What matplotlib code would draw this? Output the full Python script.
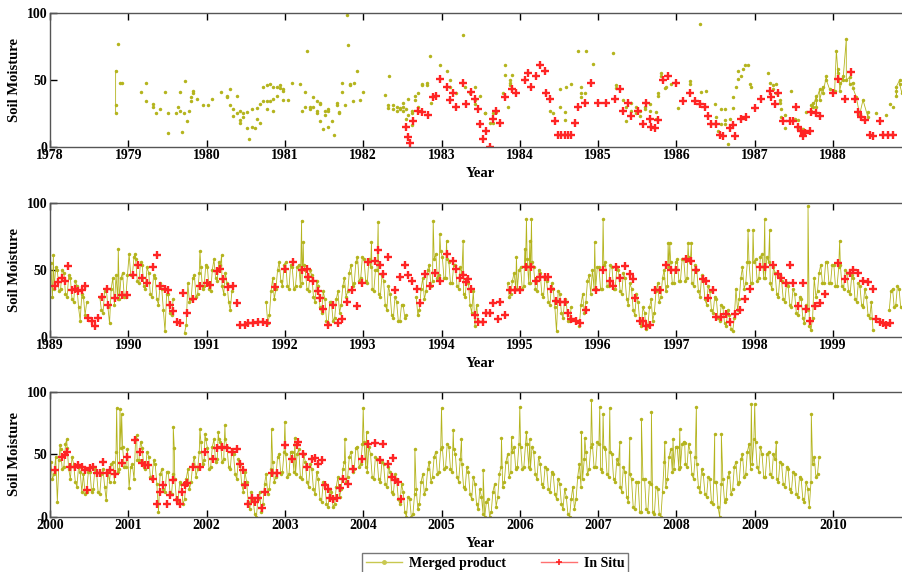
import numpy as np
import matplotlib
matplotlib.use('Agg')
import matplotlib.pyplot as plt
from matplotlib.lines import Line2D

nan = np.nan

# ---------------------------------------------------------------- data
# 1978-1988: sparse merged product observations (decimal year, value)
p1_years = [1978.872, 1978.894, 1978.915, 1979.162, 1979.221, 1979.221, 1979.311, 1979.311,
            1979.349, 1979.404, 1979.464, 1979.511, 1979.511, 1979.609, 1979.630, 1979.660,
            1979.660, 1979.685, 1979.711, 1979.723, 1979.745, 1979.770, 1979.796, 1979.796,
            1979.830, 1979.830, 1979.872, 1979.957, 1980.021, 1980.072, 1980.179, 1980.255,
            1980.255, 1980.298, 1980.298, 1980.340, 1980.340, 1980.383, 1980.383, 1980.426,
            1980.426, 1980.426, 1980.468, 1980.468, 1980.511, 1980.511, 1980.540, 1980.574,
            1980.574, 1980.617, 1980.638, 1980.638, 1980.681, 1980.681, 1980.723, 1980.723,
            1980.766, 1980.766, 1980.766, 1980.809, 1980.809, 1980.851, 1980.851, 1980.851,
            1980.894, 1980.894, 1980.936, 1980.936, 1980.979, 1980.979, 1980.979, 1981.043,
            1981.085, 1981.191, 1981.213, 1981.255, 1981.255, 1981.285, 1981.319, 1981.319,
            1981.362, 1981.362, 1981.404, 1981.404, 1981.404, 1981.447, 1981.447, 1981.447,
            1981.481, 1981.511, 1981.511, 1981.553, 1981.553, 1981.553, 1981.596, 1981.630,
            1981.660, 1981.660, 1981.694, 1981.694, 1981.723, 1981.723, 1981.766, 1981.787,
            1981.809, 1981.830, 1981.830, 1981.864, 1981.881, 1981.915, 1981.957, 1982.000,
            1982.277, 1982.319, 1982.319, 1982.332, 1982.383, 1982.383, 1982.426, 1982.426,
            1982.468, 1982.468, 1982.511, 1982.511, 1982.511, 1982.545, 1982.545, 1982.574,
            1982.574, 1982.617, 1982.617, 1982.617, 1982.660, 1982.660, 1982.702, 1982.702,
            1982.745, 1982.745, 1982.809, 1982.809, 1982.851, 1982.864, 1982.915, 1982.979,
            1983.064, 1983.106, 1983.106, 1983.191, 1983.277, 1983.298, 1983.362, 1983.426,
            1983.426, 1983.426, 1983.489, 1983.553, 1983.553, 1983.617, 1983.660, 1983.660,
            1983.702, 1983.787, 1983.809, 1983.809, 1983.851, 1983.872, 1983.872, 1983.872,
            1983.894, 1984.383, 1984.426, 1984.511, 1984.511, 1984.574, 1984.574, 1984.596,
            1984.660, 1984.745, 1984.787, 1984.787, 1984.787, 1984.830, 1984.851, 1984.936,
            1985.191, 1985.234, 1985.234, 1985.319, 1985.362, 1985.362, 1985.426, 1985.426,
            1985.489, 1985.489, 1985.532, 1985.532, 1985.596, 1985.596, 1985.660, 1985.660,
            1985.745, 1985.745, 1985.766, 1985.766, 1985.809, 1985.809, 1985.851, 1985.872,
            1985.936, 1986.021, 1986.170, 1986.170, 1986.298, 1986.319, 1986.383, 1986.489,
            1986.511, 1986.532, 1986.574, 1986.574, 1986.617, 1986.617, 1986.617, 1986.660,
            1986.681, 1986.723, 1986.723, 1986.766, 1986.787, 1986.787, 1986.830, 1986.851,
            1986.872, 1986.915, 1986.936, 1986.957, 1987.170, 1987.191, 1987.234, 1987.234,
            1987.277, 1987.277, 1987.319, 1987.319, 1987.340, 1987.340, 1987.383, 1987.383,
            1987.468, 1987.511, 1987.553, 1987.553, 1987.617, 1987.660, 1988.553, 1988.681,
            1988.723, 1988.766]
p1_values = [77, 48, 48, 41, 48, 34, 32, 30,
             25, 28, 41, 10, 25, 25, 30, 27,
             41, 11, 25, 49, 19, 27, 37, 34,
             42, 40, 36, 31, 31, 36, 41, 37,
             38, 43, 31, 28, 23, 25, 38, 27,
             18, 20, 25, 22, 26, 14, 6, 28,
             15, 14, 29, 21, 32, 18, 34, 45,
             34, 28, 46, 47, 34, 45, 36, 27,
             38, 45, 46, 44, 43, 42, 35, 35,
             48, 47, 27, 41, 30, 72, 30, 28,
             37, 30, 34, 27, 25, 33, 32, 19,
             13, 27, 24, 28, 27, 15, 19, 9,
             31, 33, 25, 26, 41, 48, 31, 99,
             76, 46, 47, 34, 48, 57, 35, 41,
             39, 29, 31, 53, 28, 31, 30, 27,
             29, 28, 30, 27, 33, 21, 28, 36,
             24, 27, 25, 16, 38, 35, 40, 30,
             47, 46, 48, 46, 68, 33, 38, 61,
             57, 50, 45, 40, 84, 45, 40, 45,
             35, 32, 38, 25, 25, 18, 25, 18,
             26, 40, 61, 54, 30, 46, 48, 50,
             54, 27, 25, 30, 43, 20, 26, 45,
             47, 72, 45, 40, 37, 40, 72, 62,
             70, 46, 44, 35, 30, 19, 33, 27,
             25, 30, 27, 23, 28, 30, 32, 27,
             26, 21, 40, 38, 55, 53, 44, 45,
             47, 29, 49, 47, 92, 41, 42, 32,
             22, 12, 28, 17, 20, 17, 28, 2,
             21, 29, 37, 45, 51, 57, 53, 58,
             61, 61, 47, 45, 55, 48, 43, 46,
             47, 40, 35, 33, 28, 22, 24, 14,
             42, 21, 14, 20, 13, 26, 25, 24,
             32, 30]

# 1978-1988: merged product runs drawn as connected lines (nan = break)
p1_line_years = [1978.838, 1978.838, 1978.838, nan,
                 1987.723, 1987.723, 1987.745, 1987.745, 1987.787, 1987.787, 1987.787,
                 1987.830, 1987.830, 1987.872, 1987.872, 1987.915, 1987.915, 1987.957,
                 1988.021, 1988.043, 1988.064, 1988.064, 1988.085, 1988.085, 1988.128,
                 1988.128, 1988.170, 1988.170, 1988.213, 1988.213, 1988.255, 1988.255,
                 1988.298, 1988.340, 1988.383, 1988.447, 1988.447, nan,
                 1988.809, 1988.809, 1988.809, 1988.851, 1988.851, 1988.880, 1988.900]
p1_line_values = [57, 31, 25, nan,
                  31, 27, 33, 30, 38, 30, 35,
                  43, 35, 45, 40, 53, 50, 43,
                  42, 72, 55, 58, 48, 42, 53,
                  50, 81, 50, 52, 47, 48, 44,
                  37, 24, 35, 22, 26, nan,
                  42, 38, 45, 50, 47, 40, 48]

# 1982-1988 in situ
p1_insitu_years = [1982.545, 1982.574, 1982.604, 1982.638, 1982.702, 1982.745, 1982.830,
                   1982.894, 1982.936, 1982.979, 1983.064, 1983.106, 1983.149, 1983.191,
                   1983.277, 1983.319, 1983.383, 1983.426, 1983.468, 1983.489, 1983.532,
                   1983.574, 1983.617, 1983.660, 1983.702, 1983.745, 1983.809, 1983.894,
                   1983.957, 1984.064, 1984.106, 1984.149, 1984.204, 1984.255, 1984.319,
                   1984.340, 1984.383, 1984.447, 1984.489, 1984.532, 1984.574, 1984.617,
                   1984.660, 1984.702, 1984.745, 1984.830, 1984.915, 1985.000, 1985.106,
                   1985.213, 1985.277, 1985.319, 1985.383, 1985.426, 1985.511, 1985.574,
                   1985.617, 1985.660, 1985.681, 1985.723, 1985.766, 1985.830, 1985.894,
                   1986.000, 1986.085, 1986.170, 1986.234, 1986.298, 1986.362, 1986.404,
                   1986.447, 1986.511, 1986.553, 1986.596, 1986.681, 1986.723, 1986.745,
                   1986.830, 1986.894, 1987.000, 1987.085, 1987.191, 1987.213, 1987.255,
                   1987.298, 1987.362, 1987.447, 1987.489, 1987.532, 1987.553, 1987.596,
                   1987.617, 1987.638, 1987.702, 1987.723, 1987.787, 1987.830, 1988.000,
                   1988.064, 1988.149, 1988.234, 1988.277, 1988.319, 1988.362, 1988.404,
                   1988.468, 1988.511, 1988.596, 1988.638, 1988.702, 1988.766]
p1_insitu_values = [15, 7, 3, 19, 27, 26, 24,
                    37, 38, 51, 45, 35, 40, 30,
                    48, 32, 41, 36, 28, 17, 6,
                    12, 0, 21, 27, 18, 37, 43,
                    40, 50, 55, 45, 53, 61, 57,
                    40, 36, 19, 9, 9, 9, 9,
                    9, 18, 30, 33, 48, 33, 33,
                    36, 43, 27, 33, 23, 27, 17,
                    33, 21, 15, 14, 20, 50, 53,
                    48, 34, 40, 34, 32, 30, 23,
                    17, 17, 9, 8, 14, 16, 8,
                    21, 22, 29, 36, 42, 37, 32,
                    40, 19, 19, 19, 30, 15, 12,
                    8, 10, 12, 26, 25, 23, 40,
                    51, 36, 56, 36, 26, 22, 20,
                    9, 8, 19, 9, 9, 9]

# 1989-2009: merged product, two readings per half month (nan = no data)
m1989 = [55, 30, 36, 52, 50, 34, 36, 50, 48, 32, 30, 46, 44, 28, 26, 42, 38, 22, 12, 32, 30, 16, 26, nan,
         nan, nan, nan, nan, nan, nan, 30, 20, 18, 34, 36, 22, 10, 36, 44, 24, 46, 28, 28, 44, 48, 30, 30, 46]
m1990 = [62, 46, 46, 60, 58, 42, 40, 56, 54, 38, 36, 52, 48, 32, 30, 46, 44, 28, 24, 40, 36, 20, 4, 32,
         32, 18, 16, 28, nan, nan, nan, nan, nan, nan, 3, 9, 40, 26, 28, 44, 46, 30, 32, 48, 52, 36, 38, 54]
m1991 = [52, 36, 34, 50, 58, 44, 42, 56, 54, 38, 32, 48, 40, 26, 20, 34] + [nan] * 20 + \
        [26, 10, 16, 34, 44, 28, 36, 50, 56, 42, 38, 54]
m1992 = [56, 38, 36, 54, 52, 36, 38, 52, 54, 38, 40, 54, 50, 36, 34, 50, 46, 30, 26, 42, 38, 22, 18, 34,
         28, 12, 10, 26, 26, 12, 14, 28, 34, 18, 24, 38, 44, 30, 34, 48, 54, 38, 40, 56, 60, 42, 44, 60]
m1993 = [58, 42, 40, 58, 52, 36, 34, 50, 50, 32, 30, 46, 42, 24, 20, 38, 32, 16, 14, 30, 26, 12, 12, 24,
         24, 14, 16, nan, nan, nan, nan, nan, 30, 16, 20, 36, 44, 28, 34, 50, 54, 38, 42, 58, 62, 44, 46, 64]
m1994 = [60, 44, 44, 58, 56, 40, 40, 54, 54, 38, 36, 52, 48, 32, 30, 44, 40, 24, 18, 34, 8, 24, 12] + \
        [nan] * 17 + [40, 30, 32, 42, 48, 36, 36, 50]
m1995 = [52, 36, 38, 54, 58, 40, 40, 56, 52, 36, 34, 50, 48, 32, 30, 44, 42, 26, 24, 40, 36, 22, 4, 34,
         32, 18, 14, 28, 26, 12, 12, 22, nan, nan, nan, nan, 8, 24, 32, 18, 26, 42, 46, 32, 50, 36, 36, 52]
m1996 = [52, 36, 36, 54, 56, 38, 38, 54, 52, 36, 36, 52, 50, 34, 32, 48, 44, 28, 24, 40, 36, 20, 16, 32,
         26, 12, 8, 22, 18, 6, 8, 22, 28, 12, 18, 34, 40, 26, 30, 44, 50, 34, 38, 52, 56, 40, 40, 56]
m1997 = [58, 42, 42, 58, 58, 42, 44, 60, 56, 40, 38, 54, 50, 34, 30, 46, 42, 28, 24, 38, 34, 20, 18, 30,
         28, 14, 12, 24, 22, 10, 8, 20, 16, 6, 4, 14, 36, 20, 28, 44, 52, 36, 40, 56, 56, 40, 40, 56]
m1998 = [58, 42, 44, 60, 62, 44, 44, 60, 56, 40, 36, 52, 48, 32, 30, 46, 42, 28, 26, 40, 38, 24, 22, 36,
         32, 18, 16, 30, 28, 14, 10, 24, 20, 8, 5, 14, 44, 30, 34, 48, 54, 40, 40, 56, 56, 40, 40, 54]
m1999 = [54, 38, 38, 52, 54, 38, 36, 50, 48, 34, 32, 46, 44, 28, 26, 40, 38, 24, 22, 36, 30, 16, 14, 26,
         5] + [nan] * 9 + [20, 34, 36, 22, 24, 38, 36, 22, 22, 34, 36, 22, 22, 34]
m2000 = [44, 30, 34, 48, 12, 45, 54, 38, 40, 58, 55, 38, 30, 48, 42, 28, 24, 40, 36, 20, 34, 18, 20, 36,
         36, 20, 22, 38, 36, 20, 18, 34, 38, 24, 13, 36, 28, 42, 44, 28, 52, 36, 38, 55, 56, 40, 40, 54]
m2001 = [23, 40, 42, 30, 62, 45, 45, 60, 55, 40, 38, 52, 48, 32, 30, 45, 42, 26, 4, 34, 38, 22, 20, 36,
         36, 20, 18, 34, 30, 14, 12, 28, 26, 10, 14, 30, 38, 22, 28, 42, 48, 32, 38, 52, 60, 42, 45, 62]
m2002 = [55, 38, 40, 56, 62, 44, 46, 62, 60, 44, 46, 62, 56, 40, 38, 54, 50, 34, 30, 46, 42, 26, 20, 36,
         28, 12, 6, 20, 14, 2, 0, 14, 20, 4, 10, 26, 34, 18, 22, 38, 44, 28, 32, 48, 50, 34, 36, 52]
m2003 = [50, 32, 34, 52, 52, 36, 34, 50, 54, 32, 30, 50, 44, 28, 24, 42, 38, 22, 18, 36, 30, 14, 12, 28,
         26, 10, 8, 22, 20, 8, 10, 24, 32, 16, 22, 38, 44, 28, 32, 48, 52, 36, 38, 55, 56, 40, 42, 58]
m2004 = [60, 40, 36, 56, 50, 32, 30, 48, 46, 30, 28, 44, 42, 26, 24, 40, 36, 20, 18, 34, 30, 14, 10, 26,
         20, 4, 0, 16, 14, 0, 2, 18, 22, 6, 10, 28, 34, 18, 22, 38, 44, 28, 32, 48, 52, 34, 36, 54]
m2005 = [56, 38, 40, 58, 56, 38, 36, 54, 50, 32, 28, 46, 42, 24, 22, 40, 36, 18, 14, 32, 26, 10, 6, 22,
         16, 2, 0, 12, 14, 0, 4, 20, 26, 8, 16, 34, 40, 24, 28, 44, 50, 32, 36, 52, 56, 38, 40, 58]
m2006 = [56, 38, 40, 58, 58, 40, 38, 56, 52, 34, 30, 48, 42, 26, 24, 40, 38, 22, 20, 36, 34, 18, 14, 30,
         26, 10, 6, 22, 16, 2, 0, 14, 24, 6, 14, 32, 42, 24, 30, 46, 52, 34, 38, 56, 58, 40, 40, 60]
m2007 = [58, 38, 36, 56, 54, 34, 32, 52, 50, 30, 28, 46, 42, 24, 20, 40, 36, 16, 12, 34, 30, 8, 6, 28,
         28, 4, 4, 30, 30, 6, 4, 28, 26, 4, 2, 24, 22, 2, 0, 20, 44, 24, 30, 48, 54, 36, 38, 56]
m2008 = [56, 38, 40, 58, 60, 42, 40, 58, 52, 34, 30, 48, 42, 24, 20, 38, 34, 18, 16, 32, 30, 12, 10, 28,
         28, 8, 0, 26, 30, 12, 14, 32, 36, 18, 22, 40, 44, 26, 28, 46, 50, 32, 34, 52, 58, 38, 42, 62]
m2009 = [60, 40, 36, 56, 50, 32, 32, 50, 52, 34, 32, 50, 46, 30, 28, 44, 42, 26, 24, 40, 38, 22, 20, 36,
         34, 18, 16, 32, 30, 14, 12, 28, 22, 8, 28, 42, 48, 32, 34, 48] + [nan] * 8

# isolated high readings of the merged product
p2_spike_years = [1989.043, 1989.872, 1990.085, 1990.915, 1991.191, 1992.213, 1992.234,
                  1993.106, 1993.191, 1993.894, 1993.979, 1994.064, 1994.277, 1994.957,
                  1995.064, 1995.085, 1995.128, 1995.149, 1995.957, 1996.064, 1996.894,
                  1996.915, 1997.149, 1997.191, 1997.915, 1997.979, 1998.128, 1998.191,
                  1998.681, 1999.085]
p2_spike_values = [61, 66, 62, 64, 61, 87, 71,
                   71, 86, 87, 77, 72, 72, 60,
                   66, 88, 72, 88, 71, 88, 70,
                   70, 70, 70, 80, 80, 88, 80,
                   98, 72]
p3_spike_years = [2000.128, 2000.213, 2000.851, 2000.894, 2000.915, 2001.106, 2001.574,
                  2001.587, 2001.915, 2001.979, 2002.149, 2002.234, 2002.830, 2003.000,
                  2003.128, 2003.766, 2004.000, 2004.043, 2004.660, 2005.000, 2005.150,
                  2005.255, 2005.532, 2005.766, 2005.894, 2006.000, 2006.085, 2006.128,
                  2006.787, 2006.830, 2006.915, 2007.021, 2007.064, 2007.149, 2007.277,
                  2007.404, 2007.553, 2007.681, 2007.851, 2007.957, 2008.043, 2008.106,
                  2008.255, 2008.489, 2008.574, 2008.957, 2009.000, 2009.277, 2009.723]
p3_spike_values = [57, 62, 87, 86, 82, 65, 72,
                   55, 70, 66, 68, 73, 70, 76,
                   63, 62, 87, 68, 54, 87, 69,
                   62, 37, 63, 64, 88, 68, 62,
                   68, 63, 93, 88, 82, 87, 60,
                   63, 78, 84, 60, 62, 70, 59,
                   88, 66, 66, 90, 90, 60, 82]

# 1989-1999 in situ
p2_insitu_years = [1989.064, 1989.106, 1989.149, 1989.191, 1989.234, 1989.277, 1989.319,
                   1989.362, 1989.404, 1989.447, 1989.489, 1989.532, 1989.574, 1989.617,
                   1989.660, 1989.723, 1989.745, 1989.830, 1989.915, 1989.979, 1990.064,
                   1990.128, 1990.170, 1990.234, 1990.319, 1990.362, 1990.404, 1990.468,
                   1990.511, 1990.532, 1990.574, 1990.617, 1990.660, 1990.702, 1990.745,
                   1990.830, 1990.915, 1991.000, 1991.043, 1991.128, 1991.170, 1991.213,
                   1991.277, 1991.340, 1991.383, 1991.426, 1991.489, 1991.532, 1991.596,
                   1991.660, 1991.723, 1991.766, 1991.872, 1992.000, 1992.106, 1992.213,
                   1992.277, 1992.298, 1992.362, 1992.426, 1992.447, 1992.489, 1992.553,
                   1992.617, 1992.681, 1992.723, 1992.787, 1992.851, 1992.915, 1992.979,
                   1993.064, 1993.149, 1993.191, 1993.213, 1993.255, 1993.319, 1993.404,
                   1993.468, 1993.532, 1993.574, 1993.617, 1993.681, 1993.723, 1993.787,
                   1993.851, 1993.915, 1993.979, 1994.064, 1994.149, 1994.191, 1994.234,
                   1994.277, 1994.319, 1994.340, 1994.383, 1994.426, 1994.468, 1994.532,
                   1994.574, 1994.617, 1994.660, 1994.723, 1994.745, 1994.809, 1994.872,
                   1994.936, 1995.000, 1995.085, 1995.149, 1995.213, 1995.255, 1995.319,
                   1995.362, 1995.404, 1995.468, 1995.511, 1995.574, 1995.617, 1995.660,
                   1995.723, 1995.766, 1995.851, 1995.979, 1996.064, 1996.149, 1996.191,
                   1996.234, 1996.277, 1996.340, 1996.404, 1996.447, 1996.468, 1996.532,
                   1996.574, 1996.617, 1996.660, 1996.723, 1996.787, 1996.872, 1996.936,
                   1997.000, 1997.128, 1997.191, 1997.255, 1997.340, 1997.383, 1997.404,
                   1997.468, 1997.511, 1997.574, 1997.638, 1997.681, 1997.745, 1997.809,
                   1997.872, 1997.936, 1998.064, 1998.128, 1998.234, 1998.298, 1998.340,
                   1998.404, 1998.447, 1998.489, 1998.553, 1998.617, 1998.660, 1998.702,
                   1998.766, 1998.830, 1998.894, 1999.064, 1999.149, 1999.213, 1999.255,
                   1999.319, 1999.383, 1999.447, 1999.511, 1999.553, 1999.596, 1999.638,
                   1999.681, 1999.723]
p2_insitu_values = [38, 41, 44, 42, 53, 35, 36,
                    34, 35, 38, 14, 12, 8, 14,
                    30, 36, 24, 29, 31, 31, 46,
                    54, 44, 40, 52, 61, 38, 36,
                    35, 24, 19, 11, 10, 33, 18,
                    28, 38, 40, 39, 49, 51, 43,
                    37, 38, 25, 9, 9, 10, 10,
                    11, 11, 10, 37, 51, 56, 50,
                    51, 45, 42, 34, 29, 21, 9,
                    24, 10, 13, 26, 35, 23, 40,
                    56, 57, 65, 54, 47, 60, 35,
                    45, 54, 46, 42, 36, 25, 47,
                    38, 48, 42, 62, 57, 51, 44,
                    46, 41, 43, 36, 16, 11, 11,
                    18, 18, 25, 13, 26, 16, 35,
                    35, 35, 52, 52, 42, 45, 45,
                    45, 36, 27, 26, 26, 18, 13,
                    12, 10, 20, 35, 50, 42, 38,
                    52, 44, 53, 47, 43, 29, 12,
                    12, 8, 9, 35, 35, 54, 50,
                    50, 58, 57, 50, 43, 42, 29,
                    35, 15, 15, 17, 11, 17, 20,
                    28, 36, 52, 52, 54, 47, 44,
                    40, 54, 40, 23, 40, 21, 12,
                    23, 25, 32, 55, 43, 48, 50,
                    48, 42, 41, 36, 13, 11, 10,
                    9, 10]

# 2000-2004 in situ
p3_insitu_years = [2000.064, 2000.149, 2000.191, 2000.213, 2000.255, 2000.319, 2000.362,
                   2000.404, 2000.447, 2000.468, 2000.511, 2000.553, 2000.596, 2000.638,
                   2000.681, 2000.723, 2000.766, 2000.830, 2000.915, 2000.979, 2001.085,
                   2001.149, 2001.170, 2001.213, 2001.255, 2001.319, 2001.362, 2001.404,
                   2001.447, 2001.489, 2001.532, 2001.574, 2001.617, 2001.660, 2001.681,
                   2001.723, 2001.745, 2001.830, 2001.915, 2001.979, 2002.085, 2002.128,
                   2002.191, 2002.255, 2002.319, 2002.383, 2002.426, 2002.468, 2002.489,
                   2002.532, 2002.574, 2002.617, 2002.660, 2002.702, 2002.745, 2002.830,
                   2002.894, 2003.000, 2003.085, 2003.149, 2003.170, 2003.234, 2003.277,
                   2003.340, 2003.383, 2003.426, 2003.468, 2003.511, 2003.553, 2003.574,
                   2003.617, 2003.660, 2003.702, 2003.745, 2003.809, 2003.872, 2003.979,
                   2004.064, 2004.149, 2004.213, 2004.255, 2004.319, 2004.362, 2004.383,
                   2004.404, 2004.447, 2004.489]
p3_insitu_values = [37, 48, 49, 52, 40, 40, 41,
                    40, 37, 21, 39, 40, 35, 35,
                    44, 35, 37, 34, 43, 48, 61,
                    52, 43, 41, 41, 30, 10, 20,
                    25, 10, 17, 29, 13, 10, 20,
                    25, 27, 40, 40, 52, 46, 55,
                    56, 55, 52, 54, 42, 37, 25,
                    10, 15, 12, 15, 7, 20, 35,
                    35, 57, 46, 57, 60, 50, 40,
                    46, 47, 42, 45, 25, 22, 15,
                    14, 15, 23, 30, 26, 38, 46,
                    58, 59, 45, 58, 42, 32, 47,
                    29, 28, 14]

# ---------------------------------------------------------------- style
MERGED = '#b4b41e'
MERGED_LIGHT = '#c8c850'
INSITU = '#ff2424'
INSITU_LIGHT = '#ff7070'
SPINE = '#555555'

plt.rcParams['font.family'] = 'Liberation Serif'
plt.rcParams['font.weight'] = 'bold'

W, H = 902, 572
fig = plt.figure(figsize=(W / 100, H / 100), dpi=100)

PX_PER_YEAR = 78.3
LEFT = 50.0
# (top, bottom) pixel rows of the three panels and their first year
PANELS = [(13.3, 146.7, 1978), (203.3, 336.7, 1989), (391.7, 516.7, 2000)]


def merged_series(years, yearly, spike_t, spike_v):
    '''
    Turns the per-year readings plus isolated spikes into one sorted series.
    '''
    t = [y + (np.arange(len(v)) + 0.5) / len(v) for y, v in zip(years, yearly)]
    t = np.concatenate(t + [np.asarray(spike_t)])
    v = np.concatenate([np.asarray(v, float) for v in yearly] + [np.asarray(spike_v, float)])
    order = np.argsort(t, kind='stable')
    return t[order], v[order]


def make_axes(top, bottom, start):
    width = 11 * PX_PER_YEAR
    ax = fig.add_axes([LEFT / W, 1 - bottom / H, width / W, (bottom - top) / H])
    ax.set_xlim(start, start + 11)
    ax.set_ylim(0, 100)
    ax.set_xticks(range(start, start + 11))
    ax.set_yticks([0, 50, 100])
    ax.tick_params(direction='in', top=True, right=True, length=5, width=1,
                   labelsize=10, pad=2, colors='black')
    for s in ax.spines.values():
        s.set_color(SPINE)
        s.set_linewidth(1.0)
    h = bottom - top
    ax.set_ylabel('Soil Moisture', fontsize=10.5, fontweight='bold')
    ax.yaxis.set_label_coords(-29.0 / width, 0.5)
    ax.set_xlabel('Year', fontsize=10.5, fontweight='bold')
    ax.xaxis.set_label_coords(0.5, -20.0 / h)
    return ax


merged_kw = dict(color=MERGED, marker='o', markersize=2.5, markeredgewidth=0,
                 linewidth=0.6)
insitu_kw = dict(color=INSITU, marker='+', markersize=6, markeredgewidth=1.7,
                 linestyle='none')

axes = [make_axes(*p) for p in PANELS]

# ---- panel 1: 1978-1988
ax = axes[0]
ax.plot(p1_line_years, p1_line_values, **merged_kw)
ax.plot(p1_years, p1_values, **dict(merged_kw, linestyle='none'))
ax.plot(p1_insitu_years, p1_insitu_values, **insitu_kw)

# ---- panel 2: 1989-1999
ax = axes[1]
t2, v2 = merged_series(range(1989, 2000),
                       [m1989, m1990, m1991, m1992, m1993, m1994, m1995, m1996, m1997, m1998, m1999],
                       p2_spike_years, p2_spike_values)
ax.plot(t2, v2, **merged_kw)
ax.plot(p2_insitu_years, p2_insitu_values, **insitu_kw)

# ---- panel 3: 2000-2010
ax = axes[2]
t3, v3 = merged_series(range(2000, 2010),
                       [m2000, m2001, m2002, m2003, m2004, m2005, m2006, m2007, m2008, m2009],
                       p3_spike_years, p3_spike_values)
ax.plot(t3, v3, **merged_kw)
ax.plot(p3_insitu_years, p3_insitu_values, **insitu_kw)

# ---- legend at the bottom (its lower edge runs off the image like the reference)
handles = [Line2D([], [], color=MERGED_LIGHT, marker='o', markersize=2.5, linewidth=1.0),
           Line2D([], [], color=INSITU_LIGHT, marker='+', markersize=5,
                  markeredgecolor=INSITU, markeredgewidth=1.2, linewidth=1.0)]
leg = fig.legend(handles, ['Merged product', 'In Situ'], ncol=2, loc='upper center',
                 bbox_to_anchor=(495 / W, 1 - 546 / H), frameon=True, fancybox=False,
                 edgecolor=SPINE, fontsize=10, handlelength=2.6, columnspacing=2.5,
                 borderpad=0.3, handletextpad=0.5)
leg.get_frame().set_linewidth(1.0)

fig.savefig('out.png', dpi=100)
